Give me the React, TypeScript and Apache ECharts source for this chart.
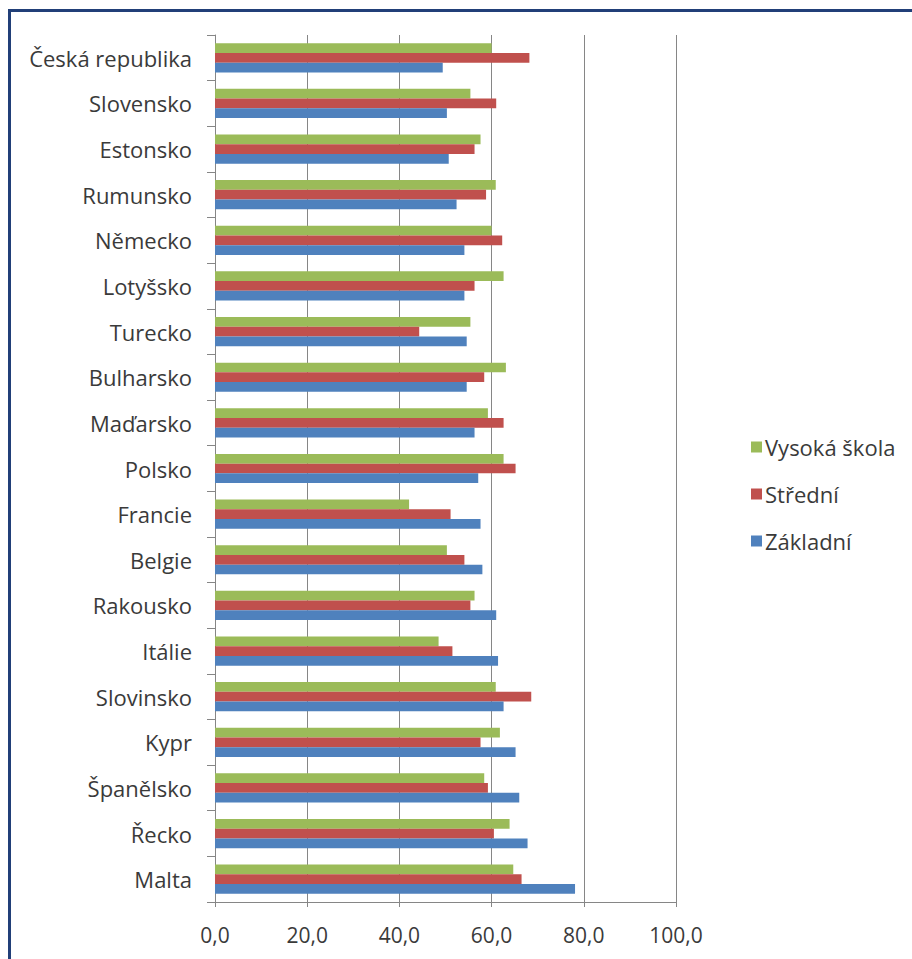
import React, { useEffect, useRef } from "react";
import * as echarts from "echarts";

// Countries from bottom (Malta) to top (Česká republika)
const countries = [
  "Malta", "Řecko", "Španělsko", "Kypr", "Slovinsko", "Itálie", "Rakousko",
  "Belgie", "Francie", "Polsko", "Maďarsko", "Bulharsko", "Turecko",
  "Lotyšsko", "Německo", "Rumunsko", "Estonsko", "Slovensko", "Česká republika",
];

const vysoka = [64.7, 63.9, 58.4, 61.8, 60.9, 48.5, 56.3, 50.3, 42.1, 62.6, 59.2, 63.1, 55.4, 62.6, 60.0, 60.9, 57.6, 55.4, 60.0];
const stredni = [66.5, 60.5, 59.2, 57.6, 68.6, 51.5, 55.4, 54.1, 51.1, 65.2, 62.6, 58.4, 44.3, 56.3, 62.3, 58.8, 56.3, 61.0, 68.2];
const zakladni = [78.1, 67.8, 66.0, 65.2, 62.6, 61.4, 61.0, 58.0, 57.6, 57.1, 56.3, 54.6, 54.6, 54.1, 54.1, 52.4, 50.7, 50.3, 49.4];

// Within each band the first series sits on top
const seriesNames = ["Vysoká škola", "Střední", "Základní"];
const seriesColors = ["#9BBB59", "#C0504D", "#4F81BD"];

const FONT = "'Open Sans', 'Noto Sans', sans-serif";
const TEXT = "#3a3a3a";
const GRID = "#868686";

export default function App() {
  const ref = useRef<HTMLDivElement>(null);

  useEffect(() => {
    if (!ref.current) return;
    const chart = echarts.init(ref.current, undefined, { renderer: "svg" });
    const values = [vysoka, stredni, zakladni];
    chart.setOption({
      animation: false,
      backgroundColor: "#ffffff",
      textStyle: { fontFamily: FONT },
      graphic: [
        {
          type: "rect",
          shape: { x: 9.5, y: 10.5, width: 1200, height: 1200 },
          style: { fill: "none", stroke: "#213f78", lineWidth: 3 },
          silent: true,
        },
      ],
      legend: {
        orient: "vertical",
        left: 746,
        top: 430,
        data: seriesNames,
        icon: "rect",
        itemWidth: 11,
        itemHeight: 11,
        itemGap: 23,
        textStyle: { fontFamily: FONT, fontSize: 22, color: TEXT, lineHeight: 24, padding: [0, 0, 0, -2] },
      },
      grid: { left: 215, right: 236, top: 35, bottom: 57, containLabel: false },
      xAxis: {
        type: "value",
        min: 0,
        max: 100,
        interval: 20,
        axisLine: { show: true, lineStyle: { color: GRID, width: 1 } },
        axisTick: { show: true, length: 5, lineStyle: { color: GRID } },
        splitLine: { show: true, lineStyle: { color: GRID, width: 1 } },
        axisLabel: {
          fontFamily: FONT,
          fontSize: 21,
          color: TEXT,
          margin: 22,
          formatter: (v: number) => v.toFixed(1).replace(".", ","),
        },
      },
      yAxis: {
        type: "category",
        data: countries,
        axisLine: { show: true, lineStyle: { color: GRID, width: 1 } },
        axisTick: { show: true, length: 8, alignWithLabel: false, lineStyle: { color: GRID } },
        splitLine: { show: false },
        axisLabel: { fontFamily: FONT, fontSize: 22, color: TEXT, margin: 23 },
      },
      series: seriesNames.map((name, i) => ({
        name,
        type: "bar",
        data: values[i],
        itemStyle: { color: seriesColors[i] },
        barGap: "0%",
        barCategoryGap: "36%",
      })),
    });
    return () => chart.dispose();
  }, []);

  return (
    <div
      ref={ref}
      style={{ position: "fixed", left: 0, top: 0, width: 912, height: 959, background: "#fff" }}
    />
  );
}
